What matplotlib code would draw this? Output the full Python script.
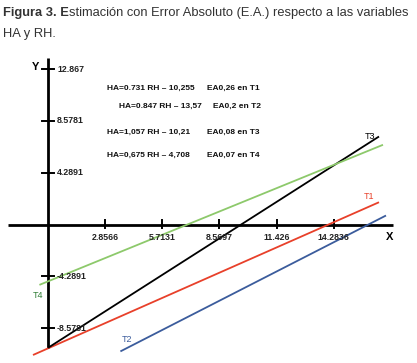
import numpy as np
import matplotlib
matplotlib.use("Agg")
import matplotlib.pyplot as plt
from matplotlib import font_manager

# ---- data ----
series_names = ["T1", "T2", "T3", "T4"]
slopes = [0.731, 0.847, 1.057, 0.675]
intercepts = [-10.255, -13.57, -10.21, -4.708]
x_start = [-0.75, 3.62, 0.0, -0.43]
x_end = [16.55, 16.9, 16.55, 16.75]
equations = ["HA=0.731 RH – 10,255", "HA=0.847 RH – 13,57",
             "HA=1,057 RH – 10,21", "HA=0,675 RH – 4,708"]
errors = ["EA0,26 en T1", "EA0,2 en T2", "EA0,08 en T3", "EA0,07 en T4"]
x_ticks = [2.8566, 5.7131, 8.5697, 11.426, 14.2836]
x_tick_labels = ["2.8566", "5.7131", "8.5697", "11.426", "14.2836"]
y_ticks = [12.867, 8.5781, 4.2891, -4.2891, -8.5781]
y_tick_labels = ["12.867", "8.5781", "4.2891", "-4.2891", "-8.5781"]

colors = {"T1": "#e8402a", "T2": "#3b5c9c", "T3": "#000000", "T4": "#8dc96b"}
label_colors = {"T1": "#e8402a", "T2": "#3b5c9c", "T3": "#000000", "T4": "#2f7d35"}

names = {f.name for f in font_manager.fontManager.ttflist}
narrow = "Liberation Sans Narrow" if "Liberation Sans Narrow" in names else "Liberation Sans"
title_size = 10 if narrow == "Liberation Sans Narrow" else 9.3

W, H = 417, 363
fig = plt.figure(figsize=(W / 100, H / 100), dpi=100)
ax = fig.add_axes([0, 0, 1, 1])
ax.axis("off")

# pixel mapping: x=0 at px 48, 20 px/unit; y=0 at px 224.5, 12.08 px/unit
x0p, sx = 48.0, 20.0
y0p, sy = 224.5, 12.08
ax.set_xlim(-x0p / sx, (W - x0p) / sx)
ax.set_ylim((y0p - H) / sy, y0p / sy)

# axes lines
ax.plot([-2.0, 17.25], [0, 0], color="black", lw=2.0, solid_capstyle="butt")
ax.plot([0, 0], [-10.2, 13.8], color="black", lw=2.0, solid_capstyle="butt")

tick_font = dict(family=["Liberation Sans", "DejaVu Sans"], fontsize=6.3,
                 fontweight="bold", color="#222222")
for t, lab in zip(x_ticks, x_tick_labels):
    ax.plot([t, t], [-0.28, 0.35], color="black", lw=1.4)
    ax.text(t, -1.05, lab, ha="center", va="center", **tick_font)
for t, lab in zip(y_ticks, y_tick_labels):
    ax.plot([-0.3, 0.3], [t, t], color="black", lw=1.4)
    ax.text(0.45, t, lab, ha="left", va="center", **tick_font)

ax.text(-0.6, 13.0, "Y", ha="center", va="center", fontsize=8,
        fontweight="bold", family=["Liberation Sans", "DejaVu Sans"])
ax.text(17.1, -1.0, "X", ha="center", va="center", fontsize=8,
        fontweight="bold", family=["Liberation Sans", "DejaVu Sans"])

# lines
for n, m, b, xs, xe in zip(series_names, slopes, intercepts, x_start, x_end):
    xx = np.array([xs, xe])
    ax.plot(xx, m * xx + b, color=colors[n], lw=1.3, solid_capstyle="butt")

# series labels
label_pos = {"T3": (16.1, 7.3), "T1": (16.05, 2.3), "T2": (3.95, -9.5), "T4": (-0.5, -5.9)}
for n in series_names:
    px, py = label_pos[n]
    ax.text(px, py, n, color=label_colors[n], ha="center", va="center",
            fontsize=6.5, family=["Liberation Sans", "DejaVu Sans"])

# equation block
eq_x = [2.95, 3.55, 2.95, 2.95]
eq_y = [11.3, 9.75, 7.65, 5.75]
ea_x = [7.95, 8.25, 7.95, 7.95]
eq_font = dict(family=["Liberation Sans", "DejaVu Sans"], fontsize=6.0,
               fontweight="bold", color="#111111")
for ex, ey, eax, eq, er in zip(eq_x, eq_y, ea_x, equations, errors):
    ax.text(ex, ey, eq, ha="left", va="center", **eq_font)
    ax.text(eax, ey, er, ha="left", va="center", **eq_font)

# title
t1 = fig.text(3 / W, 1 - 13 / H, "Figura 3. E", ha="left", va="center", fontsize=title_size,
              fontweight="bold", family=[narrow, "DejaVu Sans"], color="#333333")
fig.canvas.draw()
bb = t1.get_window_extent()
fig.text(bb.x1 / W, 1 - 13 / H, "stimación con Error Absoluto (E.A.) respecto a las variables",
         ha="left", va="center", fontsize=title_size, family=[narrow, "DejaVu Sans"], color="#333333")
fig.text(3 / W, 1 - 34 / H, "HA y RH.", ha="left", va="center", fontsize=title_size,
         family=[narrow, "DejaVu Sans"], color="#333333")

fig.savefig("out.png", dpi=100)
